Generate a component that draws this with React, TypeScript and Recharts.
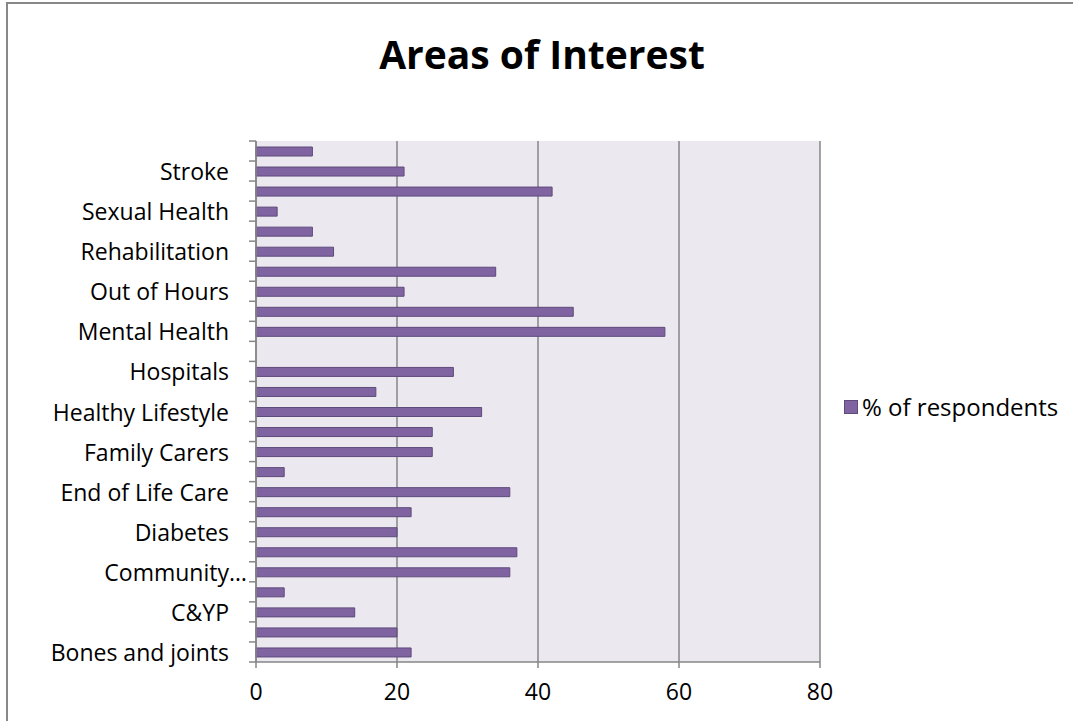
import { BarChart, Bar, XAxis, YAxis, CartesianGrid, Legend } from "recharts";

// bottom to top, as in the original sheet (every other label is hidden by the axis)
const categories = [
  "Bones and joints",
  "Brain Injury",
  "C&YP",
  "Cancer",
  "Community Services",
  "Dementia",
  "Diabetes",
  "Disability",
  "End of Life Care",
  "Eye Health",
  "Family Carers",
  "GP Services",
  "Healthy Lifestyle",
  "Heart Disease",
  "Hospitals",
  "Learning Disability",
  "Mental Health",
  "Older People",
  "Out of Hours",
  "Pharmacy",
  "Rehabilitation",
  "Respiratory",
  "Sexual Health",
  "Social Care",
  "Stroke",
  "Urgent Care",
];

const respondents = [
  22, 20, 14, 4, 36, 37, 20, 22, 36, 4, 25, 25, 32, 17, 28, 0, 58, 45, 21, 34,
  11, 8, 3, 42, 21, 8,
];

// labels too long for the axis get cut like Excel does
const cutLabels = ["Community Services"];

const xTicks = [0, 20, 40, 60, 80];

const seriesName = "% of respondents";

const data = categories.map((name, i) => ({ name, value: respondents[i] }));

const FONT = "'Open Sans', sans-serif";
const LABEL_SIZE = 23;
const BAR_FILL = "#8064A2";
const BAR_STROKE = "#5E4A7B";
const GRID = "#868686";

interface TickProps {
  x: number;
  y: number;
  index: number;
  payload: { value: string };
}

function CategoryTick({ x, y, index, payload }: TickProps) {
  const half = 10;
  const axisX = x + 8;
  const name = payload.value;
  const showLabel = index % 2 === 0;
  const cut = cutLabels.includes(name);
  const textProps = {
    y,
    dominantBaseline: "central" as const,
    fontSize: LABEL_SIZE,
    fill: "#000",
    fontFamily: FONT,
  };
  return (
    <g>
      <line x1={axisX - 7} x2={axisX} y1={y + half} y2={y + half} stroke={GRID} strokeWidth={1.5} />
      {index === categories.length - 1 && (
        <line x1={axisX - 7} x2={axisX} y1={y - half} y2={y - half} stroke={GRID} strokeWidth={1.5} />
      )}
      {showLabel && !cut && (
        <text x={axisX - 27} textAnchor="end" {...textProps}>
          {name}
        </text>
      )}
      {showLabel && cut && (
        <>
          <text x={axisX - 27} textAnchor="end" {...textProps}>
            {name.split(" ")[0]}
          </text>
          <text x={axisX - 27} textAnchor="start" {...textProps}>
            …
          </text>
        </>
      )}
    </g>
  );
}

function LegendBox() {
  return (
    <div
      style={{
        display: "flex",
        alignItems: "center",
        fontFamily: FONT,
        fontSize: 24,
        color: "#000",
        whiteSpace: "nowrap",
      }}
    >
      <span
        style={{
          display: "inline-block",
          width: 12,
          height: 12,
          background: BAR_FILL,
          border: `1px solid ${BAR_STROKE}`,
          marginRight: 4,
        }}
      />
      {seriesName}
    </div>
  );
}

export default function App() {
  return (
    <div
      style={{
        position: "absolute",
        left: 0,
        top: 0,
        width: 1073,
        height: 721,
        overflow: "hidden",
        background: "#fff",
      }}
    >
      <div
        style={{
          position: "absolute",
          left: 6,
          top: 2,
          width: 1200,
          height: 900,
          border: "2px solid #888",
        }}
      />
      <div
        style={{
          position: "absolute",
          left: 0,
          top: 27,
          width: 1084,
          textAlign: "center",
          fontFamily: FONT,
          fontWeight: 700,
          fontSize: 39,
          color: "#000",
        }}
      >
        Areas of Interest
      </div>
      <div style={{ position: "absolute", left: 0, top: 0 }}>
        <BarChart
          width={1073}
          height={721}
          data={data}
          layout="vertical"
          margin={{ top: 141, right: 253, bottom: 0, left: 0 }}
          barCategoryGap={0}
        >
          <CartesianGrid horizontal={false} stroke={GRID} strokeWidth={1.5} fill="#EBE8EF" fillOpacity={1} />
          <XAxis
            type="number"
            domain={[0, 80]}
            ticks={xTicks}
            height={59}
            stroke={GRID}
            strokeWidth={1.5}
            tickSize={6}
            tickMargin={16}
            tick={{ fill: "#000", fontSize: LABEL_SIZE, fontFamily: FONT }}
            axisLine={{ stroke: GRID, strokeWidth: 1.5 }}
          />
          <YAxis
            type="category"
            dataKey="name"
            reversed
            width={256}
            interval={0}
            tickLine={false}
            axisLine={{ stroke: GRID, strokeWidth: 1.5 }}
            tick={(props: TickProps) => <CategoryTick {...props} />}
          />
          <Legend
            layout="vertical"
            align="center"
            verticalAlign="middle"
            wrapperStyle={{ left: 844, top: 390, width: 229 }}
            content={() => <LegendBox />}
          />
          <Bar
            dataKey="value"
            name={seriesName}
            fill={BAR_FILL}
            stroke={BAR_STROKE}
            strokeWidth={1}
            barSize={9}
            isAnimationActive={false}
          />
        </BarChart>
      </div>
    </div>
  );
}
